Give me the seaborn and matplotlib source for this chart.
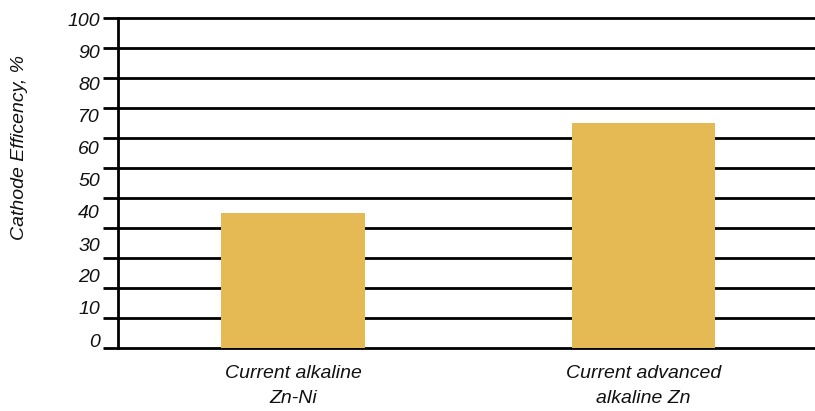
import matplotlib
matplotlib.use("Agg")
import matplotlib.pyplot as plt
from matplotlib.ticker import MultipleLocator
import pandas as pd
import seaborn as sns

# Chart data
categories = ["Current alkaline\nZn-Ni", "Current advanced\nalkaline Zn"]
efficiency = [45, 75]
tick_values = [0, 10, 20, 30, 40, 50, 60, 70, 80, 90, 100]
tick_labels = [str(v) for v in tick_values]

sns.set_theme(style="white")
plt.rcParams["font.family"] = ["Liberation Sans", "DejaVu Sans"]

W, H = 815, 411
fig = plt.figure(figsize=(W / 100, H / 100), dpi=100)
ax = fig.add_axes([118 / W, (H - 350) / H, (W - 118) / W, 334 / H])

df = pd.DataFrame({"category": categories, "efficiency": efficiency})
sns.barplot(data=df, x="category", y="efficiency", color="#E5BA55",
            saturation=1, width=0.41, linewidth=0, edgecolor="none",
            ax=ax, zorder=3)

ax.set_xlim(-0.5, 1.49)
ax.set_ylim(-2 / 3, 110 + 2 / 3)

# horizontal rules every 10 units, with short outward ticks on the left
ax.yaxis.set_major_locator(MultipleLocator(10))
ax.grid(axis="y", color="black", linewidth=2.0)
ax.grid(axis="x", visible=False)
ax.set_axisbelow(True)
ax.tick_params(axis="y", left=True, length=11, width=2.0, color="black",
               direction="out", labelleft=False)
for side in ("top", "right", "bottom"):
    ax.spines[side].set_visible(False)
ax.spines["left"].set_color("black")
ax.spines["left"].set_linewidth(2.0)
ax.spines["left"].set_bounds(0, 110)

ax.set_xlabel("")
ax.tick_params(axis="x", bottom=False, length=0, pad=11)
for lbl in ax.get_xticklabels():
    lbl.set_fontsize(14)
    lbl.set_fontstyle("italic")
    lbl.set_color("#111111")
    lbl.set_linespacing(1.6)

ax.set_ylabel("Cathode Efficency, %", fontsize=14, fontstyle="italic",
              color="#111111")
ax.yaxis.set_label_coords(-0.129, 0.605)

# percentage scale on the left
def to_pct(y):
    return (3 * y - 8) / 3.2


def from_pct(s):
    return (3.2 * s + 8) / 3


sec = ax.secondary_yaxis("left", functions=(to_pct, from_pct))
sec.set_yticks(tick_values, tick_labels)
sec.tick_params(axis="y", length=0, pad=13, labelsize=14, labelcolor="#111111")
for lbl in sec.get_yticklabels():
    lbl.set_fontstyle("italic")
sec.spines["left"].set_visible(False)

fig.savefig("out.png", dpi=100)
